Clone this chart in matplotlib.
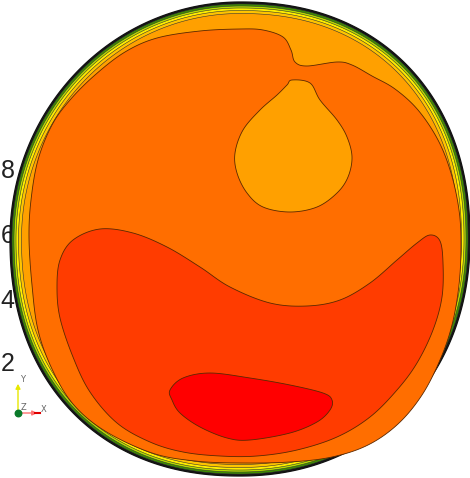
import numpy as np
import matplotlib
matplotlib.use("Agg")
import matplotlib.pyplot as plt
from matplotlib.patches import Polygon

# ---- data (picture coordinates, y grows downward) ----
disk_center = (240, 239)
disk_radii = (230, 237)
# superellipse exponents per quadrant: lower-right, lower-left, upper-left, upper-right
disk_shape = [2.1, 2.2, 2.0, 2.2]

band_insets = [0, 2.0, 4.0, 6.0, 8.5, 11.5]
band_colors = ["#151515", "#3f8f00", "#b8dc00", "#ffee00", "#ffc400", "#ffa000"]

level_colors = {"mid": "#ff6e00", "high": "#ff3c00", "top": "#ff0000", "low": "#ffa000"}

mid_x = [29, 31, 38, 52, 70, 95, 125, 157, 200, 240, 263, 283, 291, 295, 307, 337, 352, 372,
         395, 418, 438, 451, 459, 461, 459, 452, 440, 422, 398, 368, 332, 290, 240, 195, 152,
         105, 73, 52, 38, 32]
mid_y = [238, 200, 160, 125, 100, 75, 52, 38, 31, 29, 30, 37, 50, 62, 66, 62, 65, 76,
         89, 110, 140, 173, 210, 245, 285, 325, 360, 395, 424, 445, 457, 462, 463, 461, 453,
         431, 404, 369, 330, 285]

drop_x = [292, 310, 320, 337, 347, 352, 348, 337, 317, 290, 263, 247, 237, 235, 243, 260, 277, 287]
drop_y = [80, 83, 100, 120, 137, 157, 177, 193, 207, 212, 207, 193, 173, 153, 130, 110, 95, 85]

high_x = [57, 60, 73, 100, 133, 167, 200, 230, 270, 307, 340, 370, 397, 417, 430, 440, 443, 442,
          433, 417, 397, 370, 337, 297, 257, 220, 183, 150, 117, 90, 73, 60]
high_y = [287, 260, 240, 229, 233, 247, 267, 287, 303, 306, 300, 283, 260, 243, 235, 241, 263, 297,
          330, 363, 390, 417, 437, 450, 456, 456, 452, 442, 423, 392, 357, 318]

top_x = [170, 183, 210, 250, 290, 323, 332, 330, 317, 290, 250, 227, 200, 180, 172]
top_y = [390, 378, 373, 378, 385, 393, 400, 410, 422, 433, 440, 438, 427, 413, 400]

tick_labels = ["8", "6", "4", "2"]
tick_y = [171, 236, 301, 364]


def smooth_closed(xs, ys, n=12):
    p = np.column_stack([xs, ys]).astype(float)
    m = len(p)
    out = []
    for i in range(m):
        p0, p1, p2, p3 = p[(i - 1) % m], p[i], p[(i + 1) % m], p[(i + 2) % m]
        for t in np.linspace(0, 1, n, endpoint=False):
            t2, t3 = t * t, t * t * t
            out.append(0.5 * ((2 * p1) + (-p0 + p2) * t + (2 * p0 - 5 * p1 + 4 * p2 - p3) * t2
                              + (-p0 + 3 * p1 - 3 * p2 + p3) * t3))
    return np.array(out)


def disk_outline(inset, n=720):
    th = np.linspace(0, 2 * np.pi, n, endpoint=False)
    c, s = np.cos(th), np.sin(th)
    quad = np.select([(c >= 0) & (s >= 0), (c < 0) & (s >= 0), (c < 0) & (s < 0)],
                     [0, 1, 2], default=3)
    e = np.asarray(disk_shape)[quad]
    rx, ry = disk_radii[0] - inset, disk_radii[1] - inset
    x = disk_center[0] + rx * np.sign(c) * np.abs(c) ** (2 / e)
    y = disk_center[1] + ry * np.sign(s) * np.abs(s) ** (2 / e)
    return np.column_stack([x, y])


fig = plt.figure(figsize=(4.70, 4.78), dpi=100)
ax = fig.add_axes([0, 0, 1, 1])
ax.set_xlim(0, 470)
ax.set_ylim(478, 0)
ax.axis("off")

line_kw = dict(edgecolor="#5a2800", linewidth=0.6)

# left tick labels (drawn beneath the disk)
for lab, yy in zip(tick_labels, tick_y):
    ax.text(0.5, yy, lab, ha="left", va="center", fontsize=18, color="#222222",
            family="Liberation Sans", zorder=1)

# concentric edge bands
for inset, col in zip(band_insets, band_colors):
    ax.add_patch(Polygon(disk_outline(inset), closed=True, facecolor=col, zorder=2,
                         edgecolor="#333333" if inset > 0 else "#111111",
                         linewidth=0.4 if inset > 0 else 0.9))

for xs, ys, key, z in [(mid_x, mid_y, "mid", 3), (drop_x, drop_y, "low", 4),
                       (high_x, high_y, "high", 4), (top_x, top_y, "top", 5)]:
    pts = smooth_closed(xs, ys)
    ax.add_patch(Polygon(pts, closed=True, facecolor=level_colors[key], zorder=z, **line_kw))

# orientation triad
ox, oy = 18, 413
ax.annotate("", xy=(ox, oy - 32), xytext=(ox, oy),
            arrowprops=dict(arrowstyle="-|>", color="#e8e800", lw=1.0, mutation_scale=7), zorder=6)
ax.annotate("", xy=(ox + 22, oy), xytext=(ox, oy),
            arrowprops=dict(arrowstyle="-|>", color="#ff7070", lw=1.0, mutation_scale=7), zorder=6)
ax.plot([ox + 17, ox + 22], [oy, oy], color="#e00000", lw=1.5, zorder=6)
ax.scatter([ox], [oy], s=22, color="#0a7a2a", zorder=7)
ax.text(ox + 2, oy - 33, "Y", fontsize=6, color="#666666", va="center", ha="left")
ax.text(ox + 23, oy - 3, "X", fontsize=6, color="#666666", va="center", ha="left")
ax.text(ox + 3, oy - 6, "Z", fontsize=6, color="#666666", va="center", ha="left")

fig.savefig("out.png", dpi=100, facecolor="white")
